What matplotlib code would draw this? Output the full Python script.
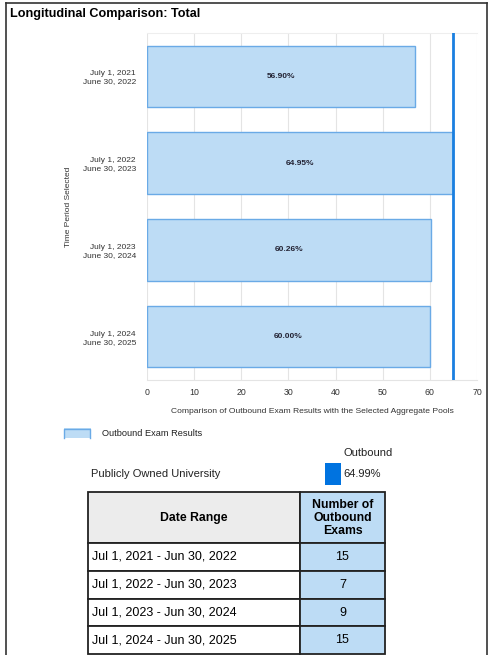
import matplotlib
matplotlib.use('Agg')
import matplotlib.pyplot as plt
from matplotlib.patches import Rectangle

plt.rcParams['font.family'] = ['Liberation Sans', 'DejaVu Sans']

# data
periods = ['July 1, 2021\nJune 30, 2022', 'July 1, 2022\nJune 30, 2023',
           'July 1, 2023\nJune 30, 2024', 'July 1, 2024\nJune 30, 2025']
results = [56.90, 64.95, 60.26, 60.00]
benchmark_name = 'Publicly Owned University'
benchmark_value = 64.99
date_ranges = ['Jul 1, 2021 - Jun 30, 2022', 'Jul 1, 2022 - Jun 30, 2023',
               'Jul 1, 2023 - Jun 30, 2024', 'Jul 1, 2024 - Jun 30, 2025']
exam_counts = [15, 7, 9, 15]
x_ticks = [0, 10, 20, 30, 40, 50, 60, 70]

W, H = 489, 655
bar_fill = '#bddcf5'
bar_edge = '#6aaae6'
line_col = '#1a7fe0'


def fx(px):
    return px / W


def fy(py):
    return 1 - py / H


fig = plt.figure(figsize=(W / 100, H / 100), dpi=100)

# outer frame
fig.add_artist(plt.Line2D([fx(6), fx(6)], [fy(3), 0], color='#333333', lw=1.2))
fig.add_artist(plt.Line2D([fx(6), fx(487)], [fy(3), fy(3)], color='#333333', lw=1.2))
fig.add_artist(plt.Line2D([fx(487), fx(487)], [fy(3), 0], color='#333333', lw=1.2))
fig.text(fx(10), fy(14), 'Longitudinal Comparison: Total', fontsize=9.1,
         fontweight='bold', va='center', ha='left')

# bar chart
ax = fig.add_axes([fx(147), fy(380), (477 - 147) / W, (380 - 33) / H])
ypos = list(range(len(periods)))
bars = ax.barh(ypos, results, height=0.71, color=bar_fill, edgecolor=bar_edge,
               linewidth=1.0, zorder=2)
for b, v in zip(bars, results):
    ax.text(v / 2, b.get_y() + b.get_height() / 2, '%.2f%%' % v, ha='center',
            va='center', fontsize=6, fontweight='bold', color='#222233', zorder=3)
ax.axvline(benchmark_value, color=line_col, lw=2, zorder=4)
ax.set_xlim(0, 70)
ax.set_ylim(len(periods) - 0.5, -0.5)
ax.set_xticks(x_ticks)
ax.set_yticks(ypos)
ax.set_yticklabels(periods, fontsize=6, color='#333333', ha='right')
ax.tick_params(axis='y', length=0, pad=8)
ax.tick_params(axis='x', length=0, pad=6, labelsize=6.3, labelcolor='#333333')
ax.grid(axis='x', color='#e4e4e4', lw=0.8, zorder=0)
for s in ['left', 'right']:
    ax.spines[s].set_visible(False)
ax.spines['top'].set_color('#eeeeee')
ax.spines['bottom'].set_color('#e4e4e4')
ax.set_xlabel('Comparison of Outbound Exam Results with the Selected Aggregate Pools',
              fontsize=6.1, color='#333333', labelpad=8)
ax.set_ylabel('Time Period Selected', fontsize=6, color='#333333')
ax.yaxis.set_label_coords((72 - 147) / 330, 0.5)

# legend (swatch cut off at the bottom like the source)
fig.add_artist(Rectangle((fx(64), fy(438)), fx(27), 10 / H, facecolor=bar_fill,
                         edgecolor='none'))
fig.add_artist(plt.Line2D([fx(64.5), fx(64.5), fx(90.5), fx(90.5)],
                          [fy(438), fy(428.5), fy(428.5), fy(438)],
                          color=bar_edge, lw=1.0))
fig.text(fx(102), fy(434), 'Outbound Exam Results', fontsize=6.7, va='center',
         color='#222222')

# benchmark block
fig.text(fx(344), fy(453), 'Outbound', fontsize=8, va='center', color='#222222')
fig.text(fx(91), fy(474), benchmark_name, fontsize=8, va='center', color='#222222')
fig.add_artist(Rectangle((fx(325), fy(485)), fx(16), 22 / H, facecolor='#0073e0',
                         edgecolor='none'))
fig.text(fx(343), fy(474), '%.2f%%' % benchmark_value, fontsize=8, va='center',
         color='#222222')

# table
tax = fig.add_axes([0, 0, 1, 1])
tax.set_xlim(0, W)
tax.set_ylim(H, 0)
tax.axis('off')
x0, x1, x2 = 88, 300, 385
top, head_bot, row_h = 492, 543, 27.8
tax.add_patch(Rectangle((x0, top), x1 - x0, head_bot - top, facecolor='#ececec',
                        edgecolor='#222222', lw=1.3))
tax.add_patch(Rectangle((x1, top), x2 - x1, head_bot - top, facecolor=bar_fill,
                        edgecolor='#222222', lw=1.3))
tax.text((x0 + x1) / 2, (top + head_bot) / 2, 'Date Range', ha='center',
         va='center', fontsize=8.8, fontweight='bold')
tax.text((x1 + x2) / 2, (top + head_bot) / 2 + 0.5, 'Number of\nOutbound\nExams',
         ha='center', va='center', fontsize=8.8, fontweight='bold', linespacing=1.15)
for i, (d, n) in enumerate(zip(date_ranges, exam_counts)):
    r0 = head_bot + i * row_h
    tax.add_patch(Rectangle((x0, r0), x1 - x0, row_h, facecolor='white',
                            edgecolor='#222222', lw=1.3))
    tax.add_patch(Rectangle((x1, r0), x2 - x1, row_h, facecolor=bar_fill,
                            edgecolor='#222222', lw=1.3))
    tax.text(x0 + 4, r0 + row_h / 2, d, ha='left', va='center', fontsize=9)
    tax.text((x1 + x2) / 2, r0 + row_h / 2, str(n), ha='center', va='center',
             fontsize=9)

fig.savefig('out.png', dpi=100)
